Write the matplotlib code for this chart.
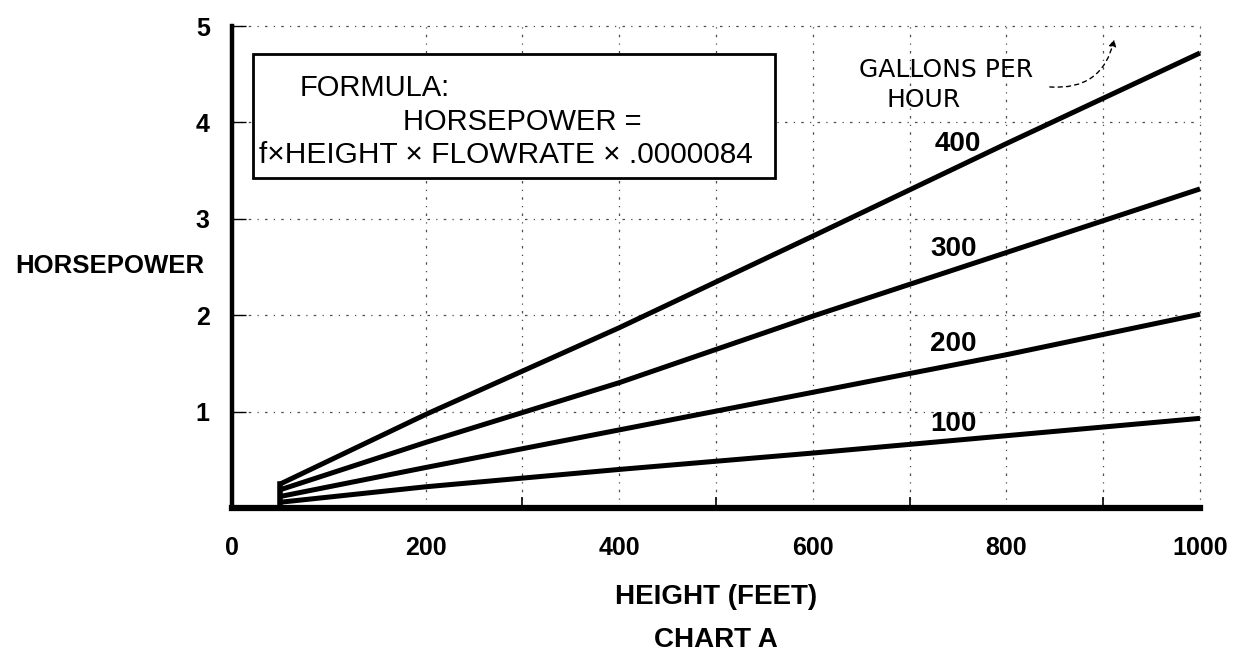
import matplotlib
matplotlib.use("Agg")
import matplotlib.pyplot as plt
from matplotlib.patches import Rectangle

# ---- data ----
height_ft = [50, 200, 400, 600, 800, 1000]
hp_400 = [0.25, 0.97, 1.87, 2.82, 3.78, 4.72]
hp_300 = [0.19, 0.68, 1.30, 1.99, 2.65, 3.31]
hp_200 = [0.12, 0.42, 0.81, 1.20, 1.59, 2.01]
hp_100 = [0.06, 0.22, 0.40, 0.57, 0.75, 0.93]
series_names = ["400", "300", "200", "100"]
series_values = [hp_400, hp_300, hp_200, hp_100]
label_pos = [(750, 3.78), (745, 2.69), (745, 1.70), (745, 0.87)]

x_ticks = [0, 200, 400, 600, 800, 1000]
y_ticks = [1, 2, 3, 4, 5]
x_grid = [200, 300, 400, 500, 600, 700, 800, 900, 1000]
y_grid = [1, 2, 3, 4, 5]

plt.rcParams['font.family'] = ['Liberation Sans', 'DejaVu Sans']

fig = plt.figure(figsize=(12.39, 6.55), dpi=100)
ax = fig.add_axes([232/1239, 1-508/655, (1200-232)/1239, (508-26)/655])
ax.set_xlim(0, 1000)
ax.set_ylim(0, 5)

grid_style = dict(color='0.3', lw=0.9, linestyle=(0, (2, 5, 1, 5)), zorder=1)
for gx in x_grid:
    ax.plot([gx, gx], [0, 5], **grid_style, clip_on=False)
for gy in y_grid:
    ax.plot([0, 1000], [gy, gy], **grid_style, clip_on=False)

for vals in series_values:
    ax.plot(height_ft, vals, color='black', lw=3.6, solid_capstyle='butt',
            zorder=3, clip_on=False)
# vertical start stub where the lines begin
ax.plot([height_ft[0], height_ft[0]], [0, max(v[0] for v in series_values)],
        color='black', lw=4, zorder=3, clip_on=False)

for name, (lx, ly) in zip(series_names, label_pos):
    ax.text(lx, ly, name, fontsize=20, fontweight='bold', ha='center',
            va='center', zorder=4)

# spines
for s in ['top', 'right']:
    ax.spines[s].set_visible(False)
ax.spines['left'].set_linewidth(3.2)
ax.spines['bottom'].set_linewidth(4.5)
ax.spines['left'].set_zorder(5)
ax.spines['bottom'].set_zorder(5)

ax.set_xticks(x_ticks)
ax.set_xticklabels([str(t) for t in x_ticks])
ax.set_yticks(y_ticks)
ax.set_yticklabels([str(t) for t in y_ticks])
ax.tick_params(axis='x', length=0, pad=20, labelsize=18)
ax.tick_params(axis='y', direction='in', length=10, width=1, pad=16, labelsize=18)
for lab in ax.get_xticklabels() + ax.get_yticklabels():
    lab.set_fontweight('bold')
ax.set_xticks(x_grid, minor=True)
ax.tick_params(axis='x', which='minor', direction='in', length=8, width=1.2)

# axis titles
ax.text((110-232)/968, 2.51, "HORSEPOWER", transform=ax.get_yaxis_transform(),
        fontsize=18.5, fontweight='bold', ha='center', va='center')
ax.text(500, -0.92, "HEIGHT (FEET)", fontsize=20, fontweight='bold',
        ha='center', va='center', clip_on=False)
ax.text(500, -1.37, "CHART A", fontsize=20, fontweight='bold',
        ha='center', va='center', clip_on=False)

# formula box
ax.add_patch(Rectangle((22, 3.42), 539, 1.29, facecolor='white',
                       edgecolor='black', lw=2, zorder=6))
ax.text(70, 4.36, "FORMULA:", fontsize=21, ha='left', va='center', zorder=7)
ax.text(177, 4.00, "HORSEPOWER =", fontsize=21, ha='left', va='center', zorder=7)
ax.text(283, 3.66, "f×HEIGHT × FLOWRATE × .0000084", fontsize=21.5,
        ha='center', va='center', zorder=7)

# gallons per hour label
ax.text(738, 4.54, "GALLONS PER", fontsize=18,
        family=['Liberation Sans Narrow', 'DejaVu Sans'],
        ha='center', va='center', zorder=4)
ax.text(714, 4.23, "HOUR", fontsize=18,
        family=['Liberation Sans Narrow', 'DejaVu Sans'],
        ha='center', va='center', zorder=4)
ax.annotate("", xy=(912, 4.89), xytext=(842, 4.37),
            arrowprops=dict(arrowstyle='-|>', color='black', lw=1,
                            linestyle=(0, (3, 3)),
                            connectionstyle='arc3,rad=0.45'),
            zorder=4, annotation_clip=False)

fig.savefig("out.png", dpi=100)
